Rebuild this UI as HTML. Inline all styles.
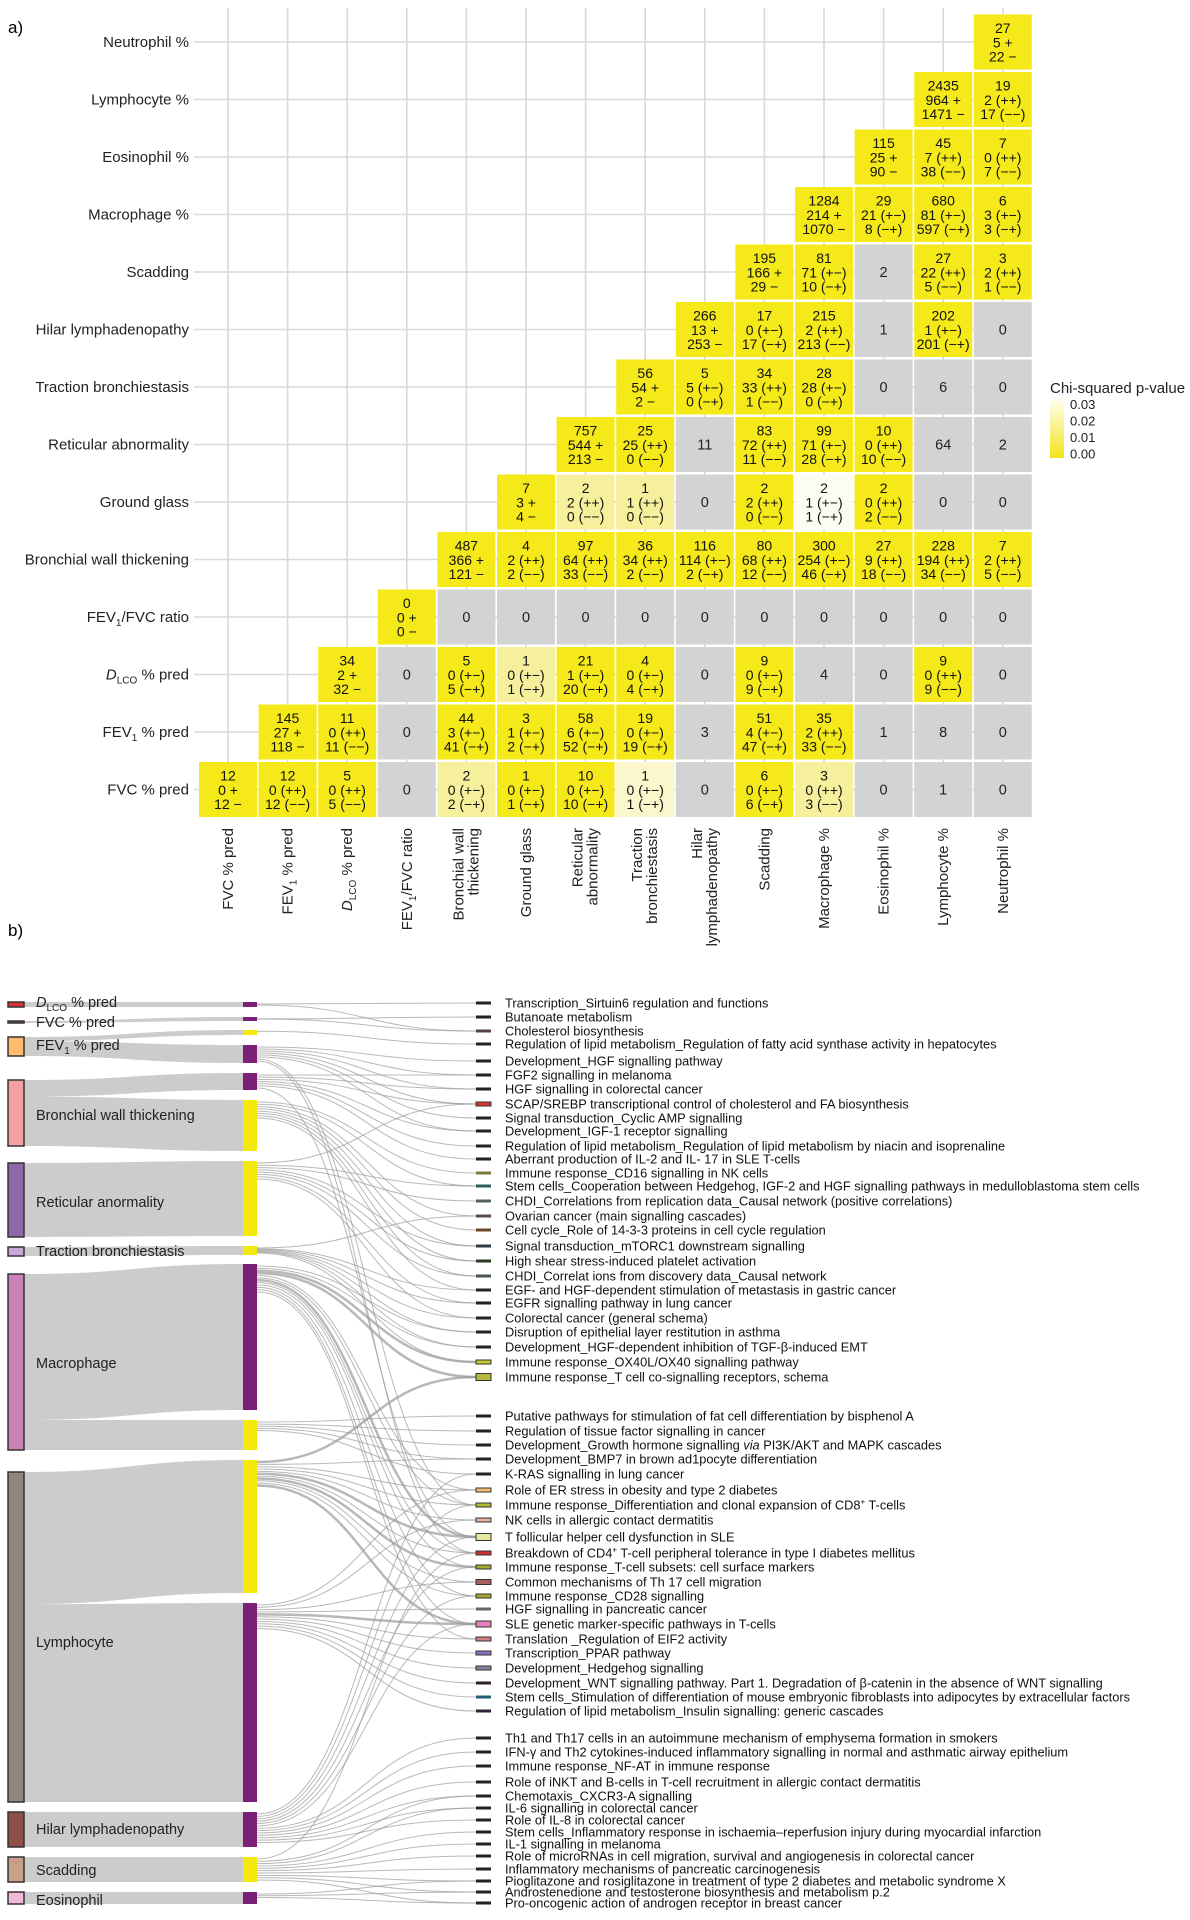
<!DOCTYPE html>
<html><head><meta charset="utf-8"><style>
html,body{margin:0;padding:0;background:#fff;}
svg{display:block;font-family:"Liberation Sans",sans-serif;}
</style></head><body>
<svg id="s" xmlns="http://www.w3.org/2000/svg" width="1190" height="1920" viewBox="0 0 1190 1920"></svg>
<script>
const S=document.getElementById('s');let h='';
const cx=j=>228+j*59.6, cy=i=>42+i*57.5;
h+='<text x="8" y="33" font-size="17">a)</text><text x="8" y="936" font-size="17">b)</text>';
for(let i=0;i<14;i++)h+=`<line x1="194" x2="1030" y1="${cy(i)}" y2="${cy(i)}" stroke="#d9d9d9" stroke-width="1.6"/>`;
for(let j=0;j<14;j++)h+=`<line y1="8" y2="810" x1="${cx(j)}" x2="${cx(j)}" stroke="#d9d9d9" stroke-width="1.6"/>`;
const R=[
["12|0 +|12 −","12|0 (++)|12 (−−)","5|0 (++)|5 (−−)","g:0","L:2|0 (+−)|2 (−+)","1|0 (+−)|1 (−+)","10|0 (+−)|10 (−+)","V:1|0 (+−)|1 (−+)","g:0","6|0 (+−)|6 (−+)","L:3|0 (++)|3 (−−)","g:0","g:1","g:0"],
["145|27 +|118 −","11|0 (++)|11 (−−)","g:0","44|3 (+−)|41 (−+)","3|1 (+−)|2 (−+)","58|6 (+−)|52 (−+)","19|0 (+−)|19 (−+)","g:3","51|4 (+−)|47 (−+)","35|2 (++)|33 (−−)","g:1","g:8","g:0"],
["34|2 +|32 −","g:0","5|0 (+−)|5 (−+)","L:1|0 (+−)|1 (−+)","21|1 (+−)|20 (−+)","4|0 (+−)|4 (−+)","g:0","9|0 (+−)|9 (−+)","g:4","g:0","9|0 (++)|9 (−−)","g:0"],
["0|0 +|0 −","g:0","g:0","g:0","g:0","g:0","g:0","g:0","g:0","g:0","g:0"],
["487|366 +|121 −","4|2 (++)|2 (−−)","97|64 (++)|33 (−−)","36|34 (++)|2 (−−)","116|114 (+−)|2 (−+)","80|68 (++)|12 (−−)","300|254 (+−)|46 (−+)","27|9 (++)|18 (−−)","228|194 (++)|34 (−−)","7|2 (++)|5 (−−)"],
["7|3 +|4 −","L:2|2 (++)|0 (−−)","L:1|1 (++)|0 (−−)","g:0","2|2 (++)|0 (−−)","W:2|1 (+−)|1 (−+)","2|0 (++)|2 (−−)","g:0","g:0"],
["757|544 +|213 −","25|25 (++)|0 (−−)","g:11","83|72 (++)|11 (−−)","99|71 (+−)|28 (−+)","10|0 (++)|10 (−−)","g:64","g:2"],
["56|54 +|2 −","5|5 (+−)|0 (−+)","34|33 (++)|1 (−−)","28|28 (+−)|0 (−+)","g:0","g:6","g:0"],
["266|13 +|253 −","17|0 (+−)|17 (−+)","215|2 (++)|213 (−−)","g:1","202|1 (+−)|201 (−+)","g:0"],
["195|166 +|29 −","81|71 (+−)|10 (−+)","g:2","27|22 (++)|5 (−−)","3|2 (++)|1 (−−)"],
["1284|214 +|1070 −","29|21 (+−)|8 (−+)","680|81 (+−)|597 (−+)","6|3 (+−)|3 (−+)"],
["115|25 +|90 −","45|7 (++)|38 (−−)","7|0 (++)|7 (−−)"],
["2435|964 +|1471 −","19|2 (++)|17 (−−)"],
["27|5 +|22 −"]];
const C={g:'#d3d3d3',L:'#f6ef9b',V:'#fbf6cc',W:'#fdfcf3',Y:'#f5e91a'};
R.forEach((row,r)=>{const i=13-r;row.forEach((v,k)=>{const j=r+k;let c='Y';if(/^[gLVW]:/.test(v)){c=v[0];v=v.slice(2);}
const x=cx(j),y=cy(i);h+=`<rect x="${x-29}" y="${y-27.5}" width="58" height="55" fill="${C[c]}"/>`;
const p=v.split('|');if(p.length==1)h+=`<text x="${x}" y="${y+5}" font-size="14.5" text-anchor="middle" fill="#222">${p[0]}</text>`;
else p.forEach((t,n)=>{h+=`<text x="${x}" y="${y-9+n*14.3}" font-size="14" text-anchor="middle" fill="#111">${t}</text>`;});});});
const yl=['Neutrophil %','Lymphocyte %','Eosinophil %','Macrophage %','Scadding','Hilar lymphadenopathy','Traction bronchiestasis','Reticular abnormality','Ground glass','Bronchial wall thickening','FEV<tspan font-size="10" dy="4">1</tspan><tspan dy="-4">/FVC ratio</tspan>','<tspan font-style="italic">D</tspan><tspan font-size="10" dy="4">LCO</tspan><tspan dy="-4"> % pred</tspan>','FEV<tspan font-size="10" dy="4">1</tspan><tspan dy="-4"> % pred</tspan>','FVC % pred'];
yl.forEach((t,i)=>h+=`<text x="189" y="${cy(i)+5}" font-size="15" text-anchor="end" fill="#222">${t}</text>`);
const xl=[['FVC % pred'],['FEV<tspan font-size="10" dy="4">1</tspan><tspan dy="-4"> % pred</tspan>'],['<tspan font-style="italic">D</tspan><tspan font-size="10" dy="4">LCO</tspan><tspan dy="-4"> % pred</tspan>'],['FEV<tspan font-size="10" dy="4">1</tspan><tspan dy="-4">/FVC ratio</tspan>'],['Bronchial wall','thickening'],['Ground glass'],['Reticular','abnormality'],['Traction','bronchiestasis'],['Hilar','lymphadenopathy'],['Scadding'],['Macrophage %'],['Eosinophil %'],['Lymphocyte %'],['Neutrophil %']];
xl.forEach((a,j)=>{const ys=a.length==1?[5]:[-3,12];a.forEach((t,n)=>h+=`<text transform="translate(${cx(j)},828) rotate(-90)" x="0" y="${ys[n]}" font-size="15" text-anchor="end" fill="#222">${t}</text>`);});
h+='<defs><linearGradient id="lg" x1="0" y1="0" x2="0" y2="1"><stop offset="0" stop-color="#fffff2"/><stop offset="1" stop-color="#f3e51a"/></linearGradient></defs>';
h+='<text x="1050" y="393" font-size="15" fill="#222">Chi-squared p-value</text><rect x="1050" y="398" width="14" height="60" fill="url(#lg)"/>';
['0.03','0.02','0.01','0.00'].forEach((t,n)=>h+=`<text x="1070" y="${409+n*16.5}" font-size="13" fill="#222">${t}</text>`);
const MX0=243,MX1=257,RX0=476,RX1=491;
const seg={d:[1002,1007,'p'],f:[1017,1021,'p'],ey:[1030,1035,'y'],ep:[1045,1063,'p'],bp:[1073,1090,'p'],by:[1100,1151,'y'],ry:[1161,1236,'y'],ty:[1246,1255,'y'],mp:[1264,1410,'p'],my:[1420,1450,'y'],ly:[1460,1593,'y'],lp:[1603,1802,'p'],hp:[1812,1847,'p'],sy:[1857,1882,'y'],eo:[1892,1904,'p']};
const nodes=[
['<tspan font-style="italic">D</tspan><tspan font-size="10" dy="4">LCO</tspan><tspan dy="-4"> % pred</tspan>',1002,1007,'#d63232',['d'],1007],
['FVC % pred',1021,1023,'#a0522d',['f'],1027],
['FEV<tspan font-size="10" dy="4">1</tspan><tspan dy="-4"> % pred</tspan>',1037,1056,'#ffbb6e',['ey','ep'],1050],
['Bronchial wall thickening',1080,1146,'#f4a0a0',['bp','by'],1120],
['Reticular anormality',1163,1237,'#9068a8',['ry'],1207],
['Traction bronchiestasis',1247,1256,'#c8a8d8',['ty'],1256],
['Macrophage',1274,1450,'#cc80b8',['mp','my'],1368],
['Lymphocyte',1472,1802,'#8e8680',['ly','lp'],1647],
['Hilar lymphadenopathy',1812,1847,'#8c5048',['hp'],1834],
['Scadding',1857,1882,'#c8a088',['sy'],1875],
['Eosinophil',1892,1904,'#f0b8d8',['eo'],1905]];
let rib='',nd='',lab='';
nodes.forEach(n=>{const[t,a,b,c,ss,ly]=n;let tot=ss.reduce((s,k)=>s+seg[k][1]-seg[k][0],0);let y=a;
ss.forEach(k=>{const g=seg[k],hh=(g[1]-g[0])/tot*(b-a);const y0=y,y1=y+hh;y=y1;const xm=(24+MX0)/2;
rib+=`<path d="M24,${y0} C${xm},${y0} ${xm},${g[0]} ${MX0},${g[0]} L${MX0},${g[1]} C${xm},${g[1]} ${xm},${y1} 24,${y1} Z" fill="#cccccc"/>`;});
nd+=`<rect x="8" y="${a}" width="16" height="${Math.max(b-a,2)}" fill="${c}" stroke="#333" stroke-width="1.5"/>`;
lab+=`<text x="36" y="${ly}" font-size="14.5" fill="#222">${t}</text>`;});
Object.values(seg).forEach(g=>nd+=`<rect x="${MX0}" y="${g[0]}" width="14" height="${g[1]-g[0]}" fill="${g[2]=='p'?'#7a2078':'#f4e80c'}"/>`);
const RL=[
[1003,'Transcription_Sirtuin6 regulation and functions'],[1017,'Butanoate metabolism'],[1031,'Cholesterol biosynthesis'],[1044,'Regulation of lipid metabolism_Regulation of fatty acid synthase activity in hepatocytes'],[1061,'Development_HGF signalling pathway'],[1075,'FGF2 signalling in melanoma'],[1089,'HGF signalling in colorectal cancer'],[1104,'SCAP/SREBP transcriptional control of cholesterol and FA biosynthesis'],[1118,'Signal transduction_Cyclic AMP signalling'],[1131,'Development_IGF-1 receptor signalling'],[1146,'Regulation of lipid metabolism_Regulation of lipid metabolism by niacin and isoprenaline'],[1159,'Aberrant production of IL-2 and IL- 17 in SLE T-cells'],[1173,'Immune response_CD16 signalling in NK cells'],[1186,'Stem cells_Cooperation between Hedgehog, IGF-2 and HGF signalling pathways in medulloblastoma stem cells'],[1201,'CHDI_Correlations from replication data_Causal network (positive correlations)'],[1216,'Ovarian cancer (main signalling cascades)'],[1230,'Cell cycle_Role of 14-3-3 proteins in cell cycle regulation'],[1246,'Signal transduction_mTORC1 downstream signalling'],[1261,'High shear stress-induced platelet activation'],[1276,'CHDI_Correlat ions from discovery data_Causal network'],[1290,'EGF- and HGF-dependent stimulation of metastasis in gastric cancer'],[1303,'EGFR signalling pathway in lung cancer'],[1318,'Colorectal cancer (general schema)'],[1332,'Disruption of epithelial layer restitution in asthma'],[1347,'Development_HGF-dependent inhibition of TGF-β-induced EMT'],[1362,'Immune response_OX40L/OX40 signalling pathway'],[1377,'Immune response_T cell co-signalling receptors, schema'],
[1416,'Putative pathways for stimulation of fat cell differentiation by bisphenol A'],[1431,'Regulation of tissue factor signalling in cancer'],[1445,'Development_Growth hormone signalling <tspan font-style="italic">via</tspan> PI3K/AKT and MAPK cascades'],[1459,'Development_BMP7 in brown ad1pocyte differentiation'],[1474,'K-RAS signalling in lung cancer'],[1490,'Role of ER stress in obesity and type 2 diabetes'],[1505,'Immune response_Differentiation and clonal expansion of CD8<tspan font-size="8" dy="-5">+</tspan><tspan dy="5"> T-cells</tspan>'],[1520,'NK cells in allergic contact dermatitis'],[1537,'T follicular helper cell dysfunction in SLE'],[1553,'Breakdown of CD4<tspan font-size="8" dy="-5">+</tspan><tspan dy="5"> T-cell peripheral tolerance in type I diabetes mellitus</tspan>'],[1567,'Immune response_T-cell subsets: cell surface markers'],[1582,'Common mechanisms of Th 17 cell migration'],[1596,'Immune response_CD28 signalling'],[1609,'HGF signalling in pancreatic cancer'],[1624,'SLE genetic marker-specific pathways in T-cells'],[1639,'Translation _Regulation of EIF2 activity'],[1653,'Transcription_PPAR pathway'],[1668,'Development_Hedgehog signalling'],[1683,'Development_WNT signalling pathway. Part 1. Degradation of β-catenin in the absence of WNT signalling'],[1697,'Stem cells_Stimulation of differentiation of mouse embryonic fibroblasts into adipocytes by extracellular factors'],[1711,'Regulation of lipid metabolism_Insulin signalling: generic cascades'],
[1738,'Th1 and Th17 cells in an autoimmune mechanism of emphysema formation in smokers'],[1752,'IFN-γ and Th2 cytokines-induced inflammatory signalling in normal and asthmatic airway epithelium'],[1766,' Immune response_NF-AT in immune response'],[1782,'Role of iNKT and B-cells in T-cell recruitment in allergic contact dermatitis'],[1796,'Chemotaxis_CXCR3-A signalling'],[1808,'IL-6 signalling in colorectal cancer'],[1820,'Role of IL-8 in colorectal cancer'],[1832,'Stem cells_Inflammatory response in ischaemia–reperfusion injury during myocardial infarction'],[1844,'IL-1 signalling in melanoma'],[1856,'Role of microRNAs in cell migration, survival and angiogenesis in colorectal cancer'],[1869,'Inflammatory mechanisms of pancreatic carcinogenesis'],[1881,'Pioglitazone and rosiglitazone in treatment of type 2 diabetes and metabolic syndrome X'],[1892,'Androstenedione and testosterone biosynthesis and metabolism p.2'],[1903,'Pro-oncogenic action of androgen receptor in breast cancer']];
const MC={2:['#5a4040',3],7:['#e03030',4],12:['#7a7a3a',3],13:['#2f5c5c',3],14:['#556066',3],15:['#5a4a4a',3],16:['#6b4a2a',3],17:['#2a3a4a',3],18:['#2a3a20',3],19:['#4a5558',3],25:['#c8c830',4],26:['#b8b83a',7],32:['#f0c070',4],33:['#b8b830',4],34:['#e8b0a0',4],35:['#e8e8a0',7],36:['#d03030',4],37:['#a8a830',4],38:['#a86060',5],39:['#a8a830',4],40:['#666',3],41:['#e080c0',6],42:['#d08080',4],43:['#9070c0',4],44:['#8880a0',4],45:['#302020',3],46:['#206070',3],47:['#302040',3]};
const F={d:[0,2],f:[1,2],ey:[3],ep:[4,5,6,7,8,9,33,36],bp:[5,6,7,9,10,11,35],by:[12,13,15,16,17,18,19,20],ry:[7,13,14,17,18,19,21,22],ty:[15,20,21,22,23,24,25],mp:[23,24,25,26,32,33,35,36,37,39,41,42],my:[27,28,29,30,31],ly:[26,30,32,33,34,35,36,37,38,39,41],lp:[32,34,38,40,41,42,43,44,45,46,47],hp:[31,33,35,37,39,41,48,49,50,51,52,53,54],sy:[36,52,53,55,56,57,58,59,60,61],eo:[59,60,61]};
const thick={mp:[25,26,35],ly:[26,35,37,41],lp:[41]};
let fl='';
Object.keys(F).forEach(k=>{const g=seg[k],L=F[k];const n=L.length;L.forEach((t,q)=>{const ys=g[0]+2+(Math.min(g[1]-g[0],n*2.5)-4)*(n>1?q/(n-1):0.5);const yt=RL[t][0];const w=(thick[k]&&thick[k].includes(t))?2.5:1;const xm=(MX1+RX0)/2;
fl+=`<path d="M${MX1},${ys} C${xm},${ys} ${xm},${yt} ${RX0},${yt}" fill="none" stroke="#9a9a9a" stroke-opacity="0.7" stroke-width="${w}"/>`;});});
let rm='';RL.forEach((r,i)=>{const m=MC[i]||['#222',3];rm+=`<rect x="${RX0}" y="${r[0]-m[1]/2}" width="15" height="${m[1]}" fill="${m[0]}" stroke="${m[1]>3?'#333':'none'}" stroke-width="1"/>`;rm+=`<text x="505" y="${r[0]+4.5}" font-size="12.8" fill="#111">${r[1]}</text>`;});
h+=rib+fl+nd+lab+rm;
S.innerHTML=h;
</script>
</body></html>
